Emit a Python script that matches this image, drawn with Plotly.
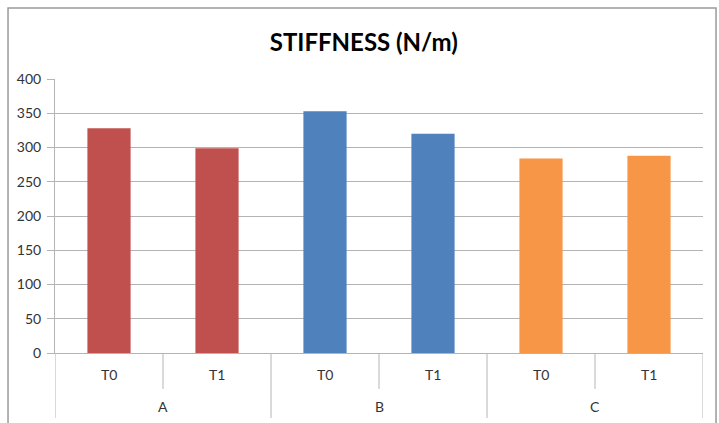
import plotly.graph_objects as go

# Stiffness measurements per sample and time point
groups = ["A", "A", "B", "B", "C", "C"]
times = ["T0", "T1", "T0", "T1", "T0", "T1"]
stiffness = [328, 299, 353, 320, 284, 288]
group_names = ["A", "B", "C"]
group_colors = {"A": "#C0504D", "B": "#4F81BD", "C": "#F79646"}
y_ticks = [0, 50, 100, 150, 200, 250, 300, 350, 400]

positions = list(range(len(stiffness)))
grid_col = "#b4b4b4"
text_font = dict(family="Lato, Open Sans, sans-serif", size=14, color="#333333")

fig = go.Figure()
fig.add_trace(go.Bar(
    x=positions,
    y=stiffness,
    width=0.4,
    marker=dict(color=[group_colors[g] for g in groups], line=dict(width=0)),
    hovertext=[f"{g} {t}" for g, t in zip(groups, times)],
    showlegend=False,
))

shapes = []
# full-height separators between sample groups
for xb in [-0.5, 1.5, 3.5, 5.5]:
    shapes.append(dict(type="line", xref="x", yref="paper", x0=xb, x1=xb,
                       y0=0, y1=-0.237, line=dict(color=grid_col, width=1)))
# short separators between time points inside a group
for xb in [0.5, 2.5, 4.5]:
    shapes.append(dict(type="line", xref="x", yref="paper", x0=xb, x1=xb,
                       y0=0, y1=-0.131, line=dict(color=grid_col, width=1)))
# chart frame
shapes.append(dict(type="rect", xref="paper", yref="paper",
                   x0=-0.0725, x1=1.0201, y0=-0.4, y1=1.259,
                   line=dict(color="#9a9a9a", width=1.5), layer="below"))

annotations = []
for p, t in zip(positions, times):
    annotations.append(dict(x=p, y=-0.080, xref="x", yref="paper", text=t,
                            showarrow=False, font=text_font,
                            xanchor="center", yanchor="middle"))
for i, g in enumerate(group_names):
    annotations.append(dict(x=2 * i + 0.5, y=-0.197, xref="x", yref="paper",
                            text=g, showarrow=False, font=text_font,
                            xanchor="center", yanchor="middle"))

fig.update_layout(
    width=719, height=423,
    margin=dict(l=55, r=16, t=79, b=70),
    paper_bgcolor="white",
    plot_bgcolor="white",
    title=dict(text="<b>STIFFNESS (N/m)</b>", x=0.506, xanchor="center",
               y=0.9, yanchor="middle", yref="container",
               font=dict(family="Lato, Open Sans, sans-serif", size=24,
                         color="#000000")),
    xaxis=dict(range=[-0.5, 5.5], showticklabels=False, showgrid=False,
               zeroline=False, showline=True, linecolor=grid_col,
               linewidth=1, ticks=""),
    yaxis=dict(range=[0, 400], tickvals=y_ticks, showgrid=True,
               gridcolor=grid_col, gridwidth=1, zeroline=False,
               showline=True, linecolor=grid_col, linewidth=1,
               ticks="outside", ticklen=7, tickcolor=grid_col,
               ticklabelstandoff=3, tickfont=text_font),
    shapes=shapes,
    annotations=annotations,
    bargap=0.6,
)

fig.write_html("out.html")
